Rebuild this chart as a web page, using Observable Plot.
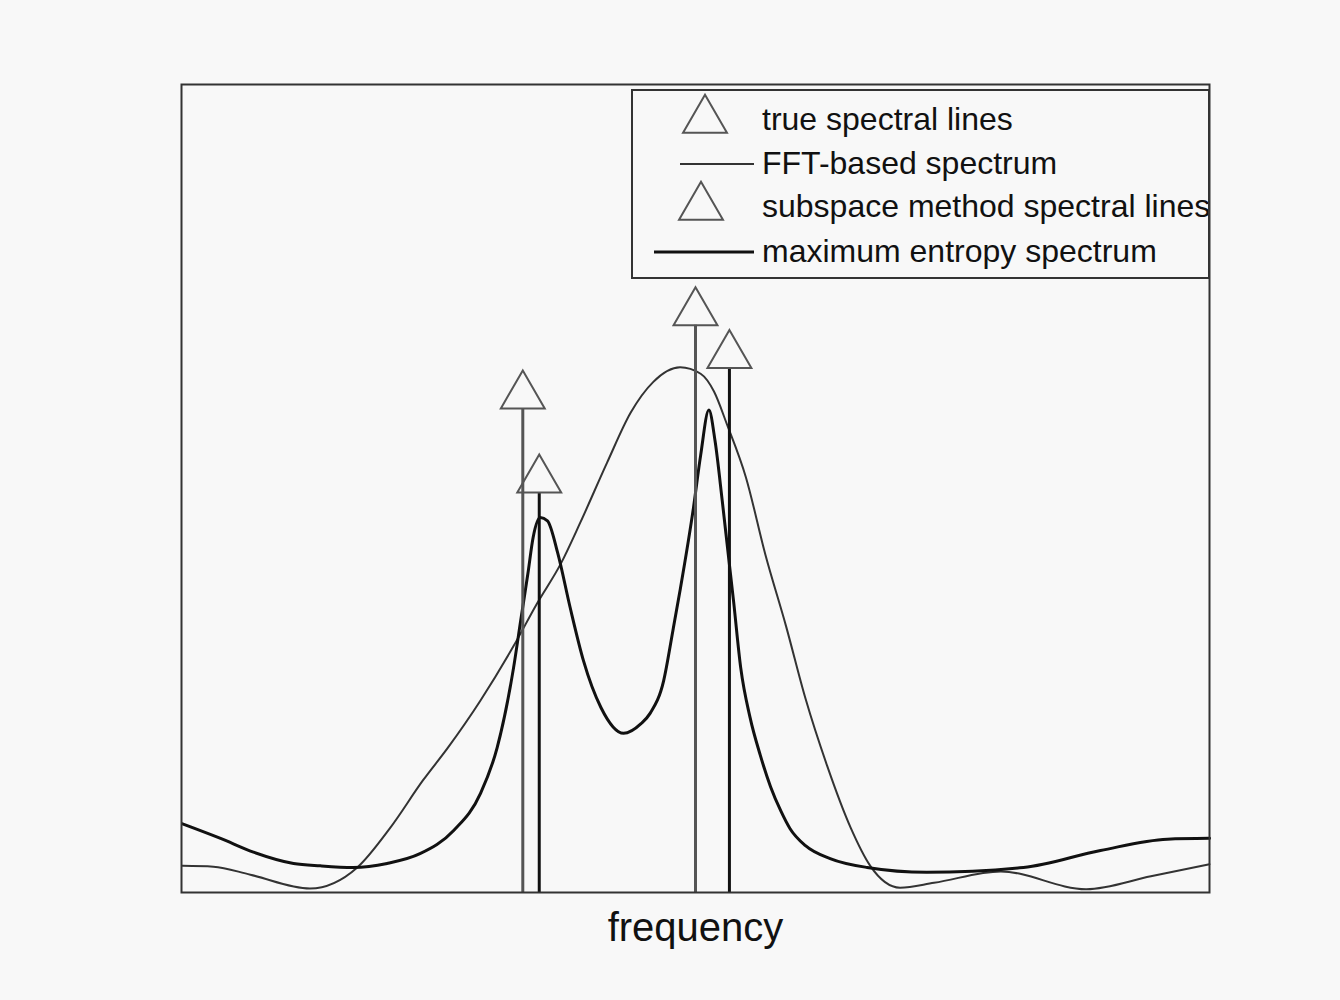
<!DOCTYPE html>
<html>
<head>
<meta charset="utf-8">
<script src="https://cdn.jsdelivr.net/npm/d3@7"></script>
<script src="https://cdn.jsdelivr.net/npm/@observablehq/plot@0.6"></script>
<style>
  html, body { margin: 0; padding: 0; background: #f8f8f8; }
  #wrap { position: relative; width: 1340px; height: 1000px; font-family: "Liberation Sans", Arial, sans-serif; }
  #legend { position: absolute; left: 631px; top: 89px; width: 575px; height: 186px; border: 2px solid #333; background: #f8f8f8; overflow: hidden; }
  #legend svg { position: absolute; left: 0; top: 0; }
  .lt { position: absolute; left: 129px; font-size: 32px; line-height: 1; color: #111; white-space: nowrap; }
</style>
</head>
<body>
<div id="wrap">
  <div id="chart"></div>
  <div id="legend"></div>
</div>
<script>
// Maximum entropy spectrum (normalized frequency, normalized power)
const meFreq = [0.001,0.038,0.070,0.109,0.135,0.167,0.200,0.232,0.265,0.291,0.307,0.323,0.330,0.337,0.342,0.349,0.356,0.366,0.378,0.391,0.408,0.430,0.447,0.456,0.469,0.478,0.485,0.498,0.505,0.513,0.519,0.526,0.532,0.537,0.544,0.553,0.563,0.573,0.583,0.592,0.607,0.631,0.667,0.725,0.819,0.894,0.959,1.000];
const mePower = [0.085,0.067,0.050,0.036,0.033,0.031,0.036,0.048,0.077,0.123,0.179,0.278,0.337,0.395,0.439,0.464,0.460,0.420,0.353,0.287,0.229,0.197,0.209,0.222,0.262,0.324,0.374,0.476,0.541,0.597,0.559,0.485,0.417,0.361,0.278,0.217,0.170,0.131,0.101,0.079,0.058,0.042,0.031,0.025,0.031,0.052,0.066,0.067];

// FFT-based spectrum
const fftFreq = [0.001,0.031,0.067,0.125,0.171,0.203,0.235,0.259,0.291,0.323,0.346,0.369,0.388,0.414,0.437,0.459,0.485,0.505,0.518,0.531,0.549,0.568,0.588,0.607,0.628,0.651,0.670,0.699,0.732,0.797,0.880,0.943,1.000];
const fftPower = [0.033,0.032,0.022,0.005,0.031,0.080,0.139,0.179,0.238,0.305,0.358,0.407,0.458,0.532,0.594,0.632,0.650,0.642,0.620,0.578,0.514,0.418,0.330,0.240,0.157,0.080,0.033,0.006,0.012,0.026,0.004,0.020,0.035];

// Spectral lines
const trueFreq = [0.332, 0.500];
const trueAmp = [0.599, 0.702];
const subFreq = [0.348, 0.533];
const subAmp = [0.495, 0.649];

const legendLabels = ["true spectral lines", "FFT-based spectrum", "subspace method spectral lines", "maximum entropy spectrum"];
const xLabel = "frequency";

const me = meFreq.map((f, i) => ({f, p: mePower[i]}));
const fft = fftFreq.map((f, i) => ({f, p: fftPower[i]}));
const trueLines = trueFreq.map((f, i) => ({f, p: trueAmp[i]}));
const subLines = subFreq.map((f, i) => ({f, p: subAmp[i]}));

const triR = 16.3, triDy = -12.7;

const chart = Plot.plot({
  width: 1340,
  height: 1000,
  marginLeft: 181,
  marginRight: 131,
  marginTop: 84,
  marginBottom: 108,
  style: {background: "transparent", fontFamily: "Liberation Sans, Arial, sans-serif"},
  x: {domain: [0, 1], axis: null},
  y: {domain: [0, 1], axis: null},
  marks: [
    Plot.line(fft, {x: "f", y: "p", stroke: "#333", strokeWidth: 2, curve: "monotone-x"}),
    Plot.line(me, {x: "f", y: "p", stroke: "#111", strokeWidth: 3, curve: "monotone-x"}),
    Plot.ruleX(trueLines, {x: "f", y1: 0, y2: "p", stroke: "#555", strokeWidth: 3}),
    Plot.ruleX(subLines, {x: "f", y1: 0, y2: "p", stroke: "#111", strokeWidth: 3}),
    Plot.dot(trueLines, {x: "f", y: "p", symbol: "triangle", r: triR, dy: triDy, stroke: "#555", strokeWidth: 2, fill: "none"}),
    Plot.dot(subLines, {x: "f", y: "p", symbol: "triangle", r: triR, dy: triDy, stroke: "#555", strokeWidth: 2, fill: "none"}),
    Plot.frame({stroke: "#333", strokeWidth: 2}),
    Plot.text([xLabel], {frameAnchor: "bottom", lineAnchor: "middle", dy: 36, fontSize: 40, fill: "#111"})
  ]
});
document.getElementById("chart").appendChild(chart);

// Legend
const lg = document.getElementById("legend");
const rowsY = [29, 73, 116, 161];
const ns = "http://www.w3.org/2000/svg";
const svg = document.createElementNS(ns, "svg");
svg.setAttribute("width", 575); svg.setAttribute("height", 186);
const tri = d3.symbol(d3.symbolTriangle, triR * triR * Math.PI)();
function addTri(cx, cy) {
  const p = document.createElementNS(ns, "path");
  p.setAttribute("d", tri);
  p.setAttribute("transform", `translate(${cx},${cy})`);
  p.setAttribute("fill", "none"); p.setAttribute("stroke", "#555"); p.setAttribute("stroke-width", 2);
  svg.appendChild(p);
}
function addLine(x1, x2, y, w, c) {
  const l = document.createElementNS(ns, "line");
  l.setAttribute("x1", x1); l.setAttribute("x2", x2); l.setAttribute("y1", y); l.setAttribute("y2", y);
  l.setAttribute("stroke", c); l.setAttribute("stroke-width", w);
  svg.appendChild(l);
}
addTri(72, rowsY[0]);
addLine(47, 121, rowsY[1], 2, "#333");
addTri(68, rowsY[2]);
addLine(21, 121, rowsY[3], 3, "#111");
lg.appendChild(svg);
legendLabels.forEach((t, i) => {
  const d = document.createElement("div");
  d.className = "lt";
  d.textContent = t;
  d.style.top = (rowsY[i] - 17) + "px";
  lg.appendChild(d);
});
</script>
</body>
</html>
